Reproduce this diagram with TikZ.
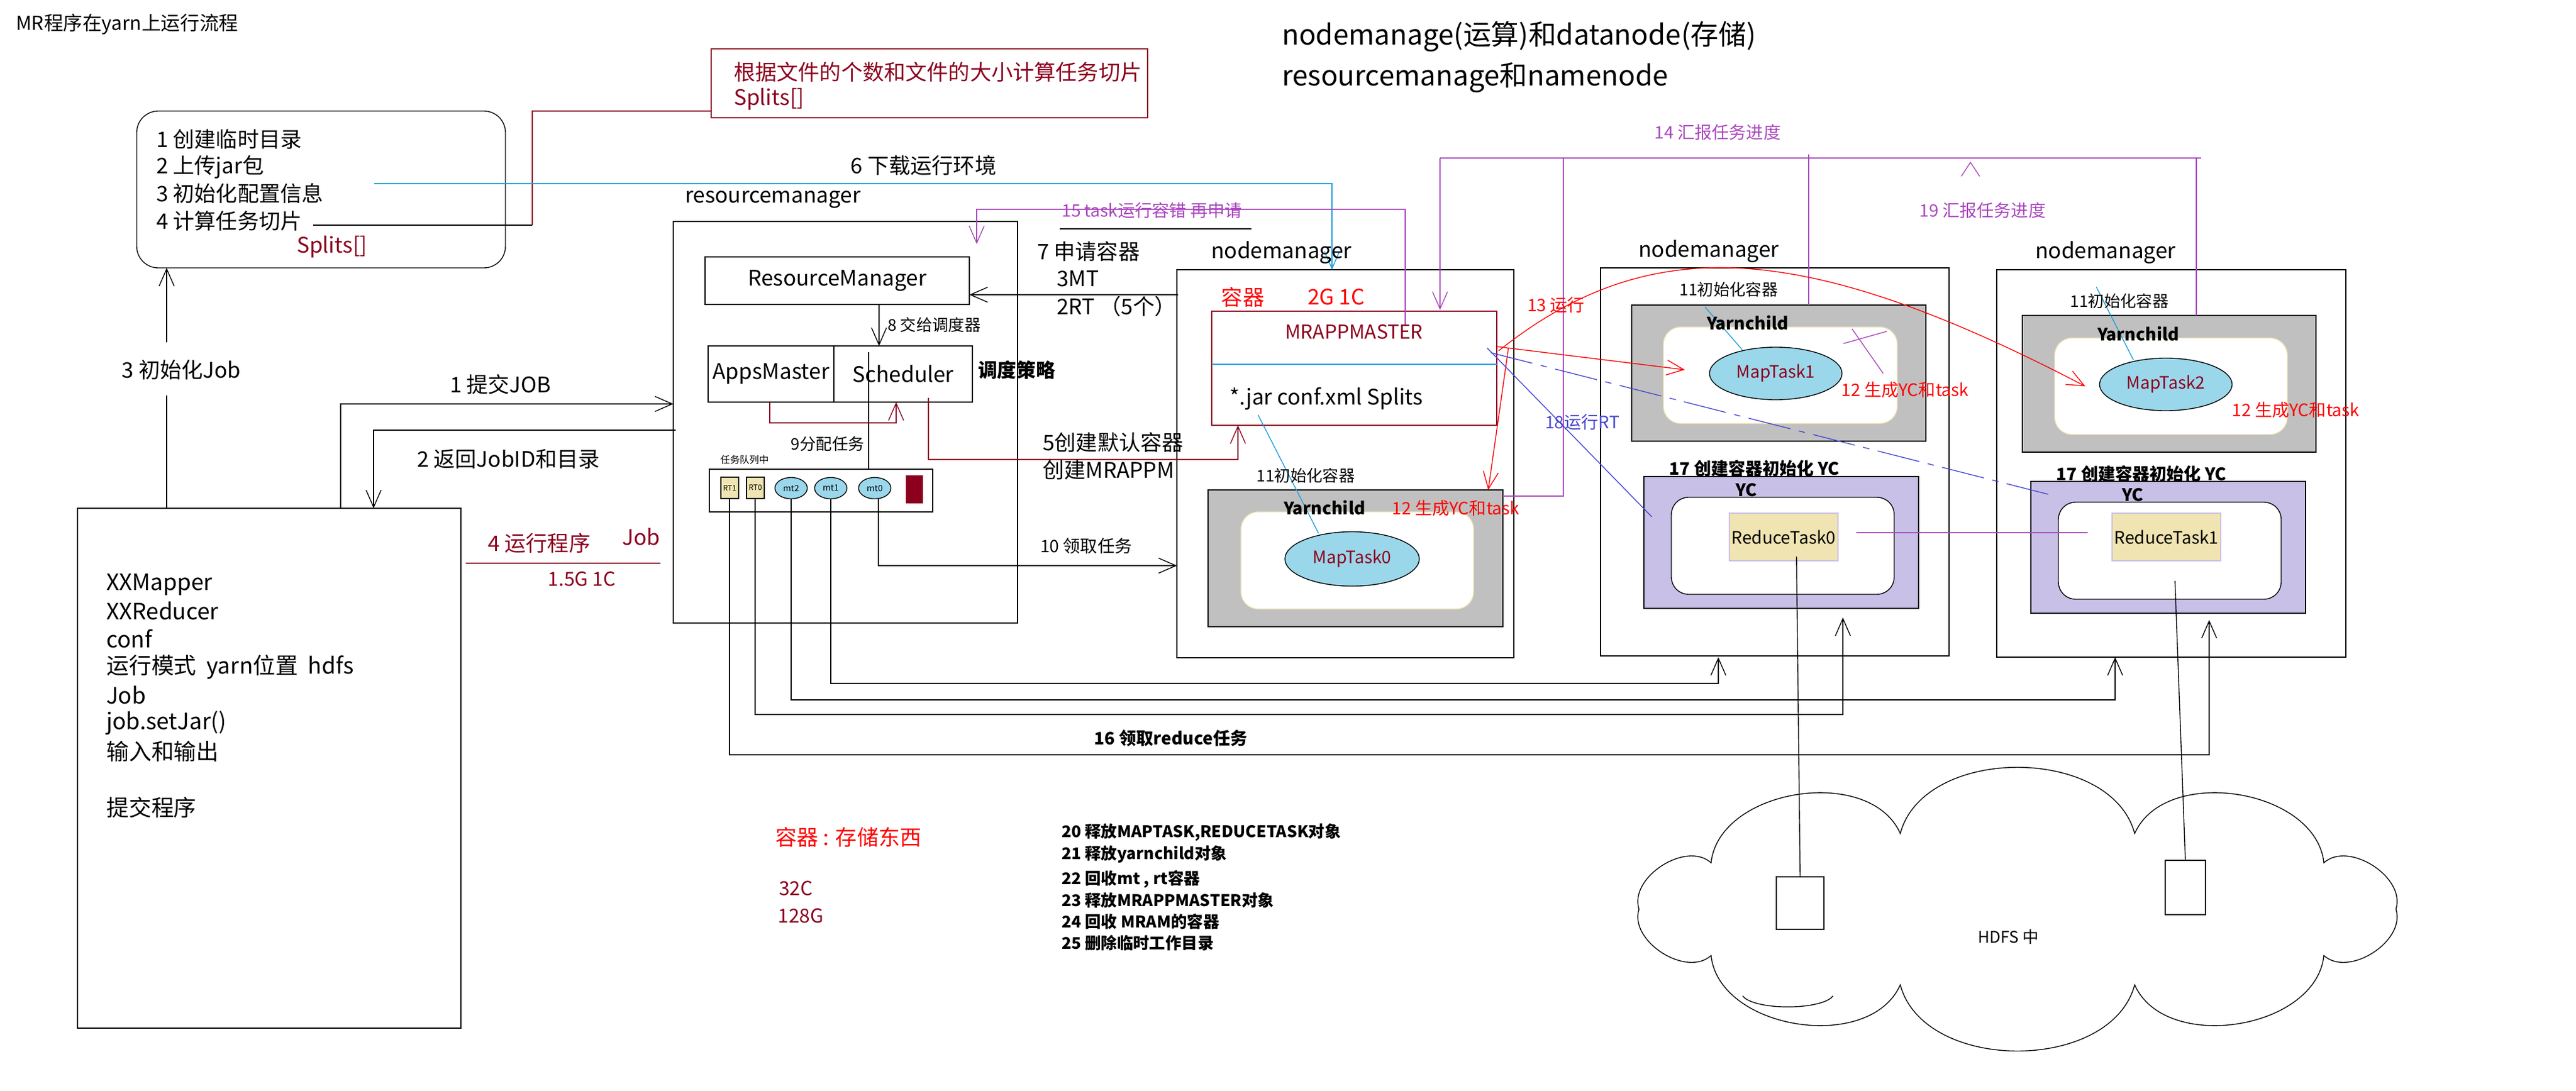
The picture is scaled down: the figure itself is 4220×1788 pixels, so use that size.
\documentclass[tikz,border=0pt]{standalone}
\usepackage{fontspec}
\setmainfont{Noto Sans CJK SC}
\usetikzlibrary{arrows.meta,shapes.geometric}
\definecolor{dred}{RGB}{140,0,30}
\definecolor{pur}{RGB}{170,70,190}
\definecolor{lblue}{RGB}{30,160,220}
\definecolor{bl}{RGB}{70,70,210}
\definecolor{gr}{RGB}{192,192,192}
\definecolor{lav}{RGB}{200,192,230}
\definecolor{kha}{RGB}{240,228,178}
\definecolor{ell}{RGB}{155,215,235}
\newcommand{\bx}[6]{\node[#6, inner sep=0pt, minimum width={(#4-#2)*0.01cm}, minimum height={(#5-#3)*0.01cm}] (#1) at ({(#2+#4)/2},{(#3+#5)/2}) {};}
\newcommand{\fsz}[1]{\fontsize{#1pt}{#1pt}\selectfont}
\begin{document}
\begin{tikzpicture}[x=0.01cm,y=-0.01cm,
  arr/.style={-{Straight Barb[length=8pt,width=7pt]}},
  every node/.style={inner sep=1pt},
  t/.style={font=\fsz{10}},
  s/.style={font=\fsz{7.5}},
  sb/.style={font=\fsz{8}\bfseries},
  el/.style={ellipse, draw, fill=ell, inner sep=0pt},
  thin line/.style={line width=0.4pt}]
\useasboundingbox (0,0) rectangle (4220,1788);
\fill[white] (0,0) rectangle (4220,1788);
% boxes
\bx{tmp}{224}{182}{828}{439}{draw, rounded corners=10pt}
\bx{split}{1165}{80}{1880}{193}{draw=dred}
\bx{xx}{127}{833}{755}{1685}{draw}
\bx{rmouter}{1103}{363}{1667}{1021}{draw}
\bx{rm}{1155}{421}{1588}{499}{draw}
\bx{apps}{1160}{567}{1366}{659}{draw}
\bx{sched}{1366}{567}{1593}{659}{draw}
\bx{queue}{1162}{769}{1528}{839}{draw}
\bx{rt1}{1181}{782}{1210}{817}{draw, fill=kha}
\bx{rt0}{1223}{782}{1252}{817}{draw, fill=kha}
\node[el, minimum width=0.53cm, minimum height=0.35cm, font=\fsz{4}] (mt2) at (1296,800) {mt2};
\node[el, minimum width=0.53cm, minimum height=0.35cm, font=\fsz{4}] (mt1) at (1361,800) {mt1};
\node[el, minimum width=0.53cm, minimum height=0.35cm, font=\fsz{4}] (mt0) at (1433,800) {mt0};
\bx{blk}{1484}{779}{1512}{825}{fill=dred}
\bx{nm1}{1928}{442}{2480}{1078}{draw}
\bx{mram}{1985}{510}{2452}{697}{draw=dred}
\bx{g1}{1979}{803}{2462}{1027}{fill=gr, draw}
\bx{w1}{2033}{839}{2414}{998}{fill=white, draw=kha, rounded corners=8pt}
\node[el, minimum width=2.2cm, minimum height=0.89cm, font=\fsz{8}, text=dred] (mt0c) at (2215,916) {MapTask0};
\bx{nm2}{2622}{439}{3193}{1075}{draw}
\bx{g2}{2673}{500}{3155}{723}{fill=gr, draw}
\bx{w2}{2725}{536}{3108}{694}{fill=white, draw=kha, rounded corners=8pt}
\node[el, minimum width=2.17cm, minimum height=0.86cm, font=\fsz{8}, text=dred] (mt1c) at (2909,612) {MapTask1};
\bx{p2}{2693}{781}{3143}{997}{fill=lav, draw}
\bx{pw2}{2738}{815}{3103}{974}{fill=white, draw, rounded corners=8pt}
\bx{rd0}{2833}{841}{3011}{919}{fill=kha, draw=lav}
\bx{nm3}{3271}{442}{3843}{1077}{draw}
\bx{g3}{3313}{517}{3794}{741}{fill=gr, draw}
\bx{w3}{3366}{554}{3747}{712}{fill=white, draw=kha, rounded corners=8pt}
\node[el, minimum width=2.17cm, minimum height=0.86cm, font=\fsz{8}, text=dred] (mt2c) at (3548,630) {MapTask2};
\bx{p3}{3327}{789}{3777}{1005}{fill=lav, draw}
\bx{pw3}{3372}{823}{3737}{982}{fill=white, draw, rounded corners=8pt}
\bx{rd1}{3460}{841}{3638}{919}{fill=kha, draw=lav}
% cloud
\draw[thin line] (3925,1490) to[bend left=75] (3807,1566) to[bend left=75] (3497,1614) to[bend left=75] (3113,1614) to[bend left=75] (2803,1566) to[bend left=75] (2685,1490) to[bend left=75] (2803,1414) to[bend left=75] (3113,1366) to[bend left=75] (3497,1366) to[bend left=75] (3807,1414) to[bend left=75] cycle;
\draw[thin line] (2855,1632) arc[start angle=170, end angle=10, x radius=75, y radius=22];
\bx{h1}{2910}{1437}{2988}{1523}{draw}
\bx{h2}{3547}{1410}{3613}{1499}{draw}
% connectors
\draw (513,369) -- (872,369);
\draw[dred] (872,369) -- (872,182) -- (split.west |- 0,182);
\draw[lblue, arr] (613,301) -- (2182,301) -- (2182,442);
\draw[arr] (558,833) -- (558,662) -- (1103,662);
\draw[arr] (1107,705) -- (612,705) -- (612,833);
\draw (273,833) -- (273,648);
\draw[arr] (273,561) -- (273,439);
\draw[dred] (763,923) -- (1082,923);
\draw[arr] (1930,483) -- (1588,483);
\draw[arr] (1440,499) -- (1440,567);
\draw (1423,577) -- (1423,769);
\draw[dred, arr] (1261,659) -- (1261,693) -- (1468,693) -- (1468,659);
\draw[dred, arr] (1521,652) -- (1521,753) -- (2028,753) -- (2028,697);
\draw[arr] (1439,817) -- (1439,927) -- (1928,927);
\draw[pur, arr] (2302,533) -- (2302,343) -- (1600,343) -- (1600,400);
\draw (1736,375) -- (2050,375);
\draw[pur, arr] (2359,259) -- (2359,508);
\draw[pur] (2359,259) -- (3606,259);
\draw[pur] (2963,253) -- (2963,500);
\draw[pur] (3598,259) -- (3598,517);
\draw[pur] (2462,813) -- (2561,813) -- (2561,259);
\draw[pur] (3213,289) -- (3228,266) -- (3243,289);
\draw[lblue, thin line] (2061,680) -- (2160,874);
\draw[lblue, thin line] (2793,503) -- (2854,573);
\draw[lblue, thin line] (3434,470) -- (3495,590);
\draw[lblue] (1985,597) -- (2452,597);
\draw[red, arr] (2452,568) -- (2760,606);
\draw[red, arr] (2455,575) .. controls (2700,380) and (2950,390) .. (3416,633);
\draw[red, arr] (2471,571) -- (2438,803);
\draw[pur, thin line] (3034,539) -- (3085,612);
\draw[pur, thin line] (3020,563) -- (3091,543);
\draw[bl, thin line] (2436,570) -- (2706,847);
\draw[bl, dashed, dash pattern=on 20pt off 4pt on 3pt off 4pt] (2442,578) -- (3367,813);
\draw[pur, thin line] (3041,873) -- (3420,873);
\draw[arr] (1361,817) -- (1361,1120) -- (2815,1120) -- (2815,1077);
\draw[arr] (1296,817) -- (1296,1147) -- (3465,1147) -- (3465,1077);
\draw[arr] (1237,817) -- (1237,1171) -- (3019,1171) -- (3019,1012);
\draw[arr] (1195,817) -- (1195,1237) -- (3619,1237) -- (3619,1016);
\draw (2943,912) -- (h1.north);
\draw (3563,952) -- (h2.north);
% texts
\node[anchor=west, font=\fsz{9}] at (22,40) {MR程序在yarn上运行流程};
\node[anchor=west, font=\fsz{13}] at (2096,60) {nodemanage(运算)和datanode(存储)};
\node[anchor=west, font=\fsz{13}] at (2096,127) {resourcemanage和namenode};
\node[anchor=west, t, text=dred] at (1198,118) {根据文件的个数和文件的大小计算任务切片};
\node[anchor=west, t, text=dred] at (1198,163) {Splits[]};
\node[anchor=west, t] at (252,228) {1 创建临时目录};
\node[anchor=west, t] at (252,274) {2 上传jar包};
\node[anchor=west, t] at (252,317) {3 初始化配置信息};
\node[anchor=west, t] at (252,362) {4 计算任务切片};
\node[anchor=west, t, text=dred] at (482,405) {Splits[]};
\node[t] at (1513,271) {6 下载运行环境};
\node[anchor=west, t] at (1118,327) {resourcemanager};
\node[font=\fsz{8}, text=pur] at (1887,345) {15 task运行容错 再申请};
\node[anchor=west, t] at (1695,412) {7 申请容器};
\node[anchor=west, t] at (1727,457) {3MT};
\node[anchor=west, t] at (1727,502) {2RT （5个）};
\node[anchor=west, t] at (1980,414) {nodemanager};
\node[anchor=west, t] at (2680,412) {nodemanager};
\node[anchor=west, t] at (3330,414) {nodemanager};
\node[t] at (rm) {ResourceManager};
\node[t] at (apps) {AppsMaster};
\node[t] at (sched) {Scheduler};
\node[anchor=west, font=\fsz{9}\bfseries] at (1598,606) {调度策略};
\node[anchor=west, s] at (1450,532) {8 交给调度器};
\node[s] at (1356,727) {9分配任务};
\node[anchor=west, font=\fsz{4.5}] at (1176,754) {任务队列中};
\node[font=\fsz{3.5}] at (rt1) {RT1};
\node[font=\fsz{3.5}] at (rt0) {RT0};
\node[anchor=west, t] at (1704,725) {5创建默认容器};
\node[anchor=west, t] at (1704,770) {创建MRAPPM};
\node[anchor=west, font=\fsz{8}] at (1700,895) {10 领取任务};
\node[t] at (297,606) {3 初始化Job};
\node[t] at (820,630) {1 提交JOB};
\node[t] at (833,752) {2 返回JobID和目录};
\node[anchor=west, t, text=dred] at (795,890) {4 运行程序};
\node[anchor=west, t, text=dred] at (1015,880) {Job};
\node[font=\fsz{9}, text=dred] at (953,949) {1.5G 1C};
\node[anchor=west, font=\fsz{10.5}] at (170,958) {XXMapper};
\node[anchor=west, font=\fsz{10.5}] at (170,1001) {XXReducer};
\node[anchor=west, font=\fsz{10.5}] at (170,1047) {conf};
\node[anchor=west, font=\fsz{10.5}] at (170,1093) {运行模式\ \ yarn位置\ \ hdfs};
\node[anchor=west, font=\fsz{10.5}] at (170,1139) {Job};
\node[anchor=west, font=\fsz{10.5}] at (170,1185) {job.setJar()};
\node[anchor=west, font=\fsz{10.5}] at (170,1231) {输入和输出};
\node[anchor=west, font=\fsz{10.5}] at (170,1323) {提交程序};
\node[t, text=red] at (2036,487) {容器};
\node[t, text=red] at (2189,487) {2G 1C};
\node[font=\fsz{9}, text=dred] at (2218,544) {MRAPPMASTER};
\node[anchor=west, t] at (2010,654) {*.jar conf.xml Splits};
\node[s] at (2139,779) {11初始化容器};
\node[s] at (2832,474) {11初始化容器};
\node[s] at (3472,493) {11初始化容器};
\node[sb] at (2170,832) {Yarnchild};
\node[sb] at (2863,529) {Yarnchild};
\node[sb] at (3503,547) {Yarnchild};
\node[font=\fsz{8}, text=red] at (2385,833) {12 生成YC和task};
\node[font=\fsz{8}, text=red] at (3121,639) {12 生成YC和task};
\node[font=\fsz{8}, text=red] at (3761,672) {12 生成YC和task};
\node[font=\fsz{8}, text=red] at (2549,500) {13 运行};
\node[font=\fsz{8}, text=bl] at (2592,692) {18运行RT};
\node[font=\fsz{8}, text=pur] at (2814,217) {14 汇报任务进度};
\node[font=\fsz{8}, text=pur] at (3248,345) {19 汇报任务进度};
\node[sb] at (2874,768) {17 创建容器初始化 YC};
\node[sb] at (3508,777) {17 创建容器初始化 YC};
\node[sb] at (2861,803) {YC};
\node[sb] at (3494,811) {YC};
\node[font=\fsz{8}] at (rd0) {ReduceTask0};
\node[font=\fsz{8}] at (rd1) {ReduceTask1};
\node[sb] at (1918,1210) {16 领取reduce任务};
\node[t, text=red] at (1390,1372) {容器 : 存储东西};
\node[font=\fsz{9}, text=dred] at (1304,1456) {32C};
\node[font=\fsz{9}, text=dred] at (1312,1501) {128G};
\node[anchor=west, font=\fsz{7.5}\bfseries] at (1735,1364) {20 释放MAPTASK,REDUCETASK对象};
\node[anchor=west, font=\fsz{7.5}\bfseries] at (1735,1400) {21 释放yarnchild对象};
\node[anchor=west, font=\fsz{7.5}\bfseries] at (1735,1441) {22 回收mt , rt容器};
\node[anchor=west, font=\fsz{7.5}\bfseries] at (1735,1475) {23 释放MRAPPMASTER对象};
\node[anchor=west, font=\fsz{7.5}\bfseries] at (1735,1510) {24 回收 MRAM的容器};
\node[anchor=west, font=\fsz{7.5}\bfseries] at (1735,1545) {25 删除临时工作目录};
\node[s] at (3290,1535) {HDFS 中};
\end{tikzpicture}
\end{document}
